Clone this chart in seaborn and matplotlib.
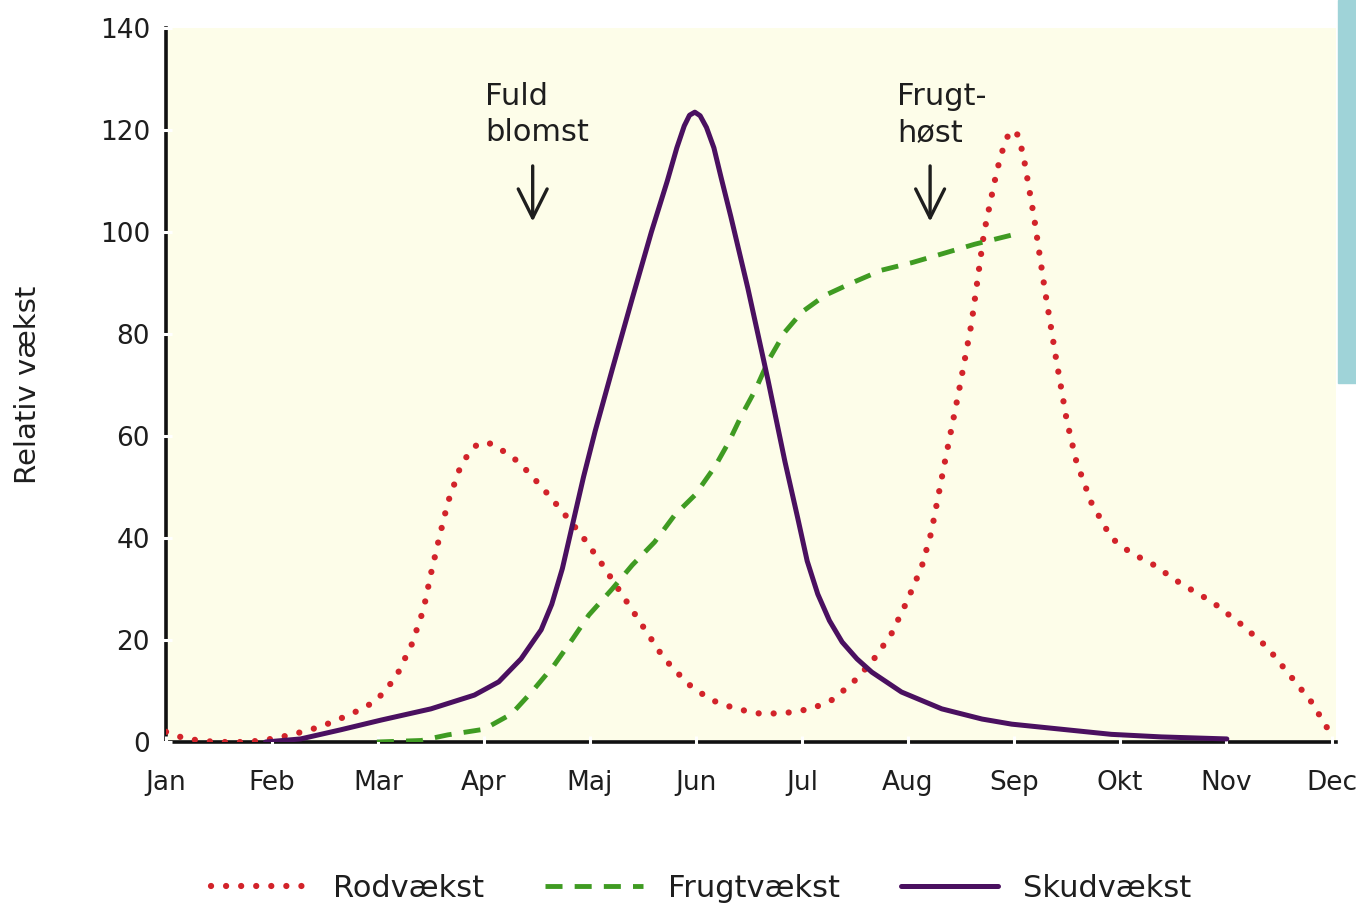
import pandas as pd
import matplotlib.pyplot as plt
import seaborn as sns
from matplotlib.patches import Rectangle

# month labels (x positions 0..11)
months = ['Jan', 'Feb', 'Mar', 'Apr', 'Maj', 'Jun', 'Jul', 'Aug', 'Sep', 'Okt', 'Nov', 'Dec']
y_ticks = [0, 20, 40, 60, 80, 100, 120, 140]

# Rodvækst (root growth)
rod_x = [0.00, 0.19, 0.47, 0.76, 0.94, 1.18, 1.46, 1.75, 1.98, 2.17, 2.32, 2.43, 2.50, 2.58,
         2.66, 2.77, 2.86, 2.93, 3.00, 3.08, 3.15, 3.29, 3.40, 3.51, 3.62, 3.72, 3.92, 4.11,
         4.30, 4.49, 4.67, 4.78, 4.96, 5.15, 5.38, 5.62, 5.85, 6.09, 6.28, 6.47, 6.66, 6.84,
         6.99, 7.13, 7.22, 7.35, 7.48, 7.60, 7.72, 7.84, 7.92, 7.98, 8.04, 8.09, 8.19, 8.29,
         8.40, 8.50, 8.59, 8.73, 8.92, 9.11, 9.30, 9.58, 9.87, 10.15, 10.39, 10.62, 10.81,
         10.95, 11.02]
rod_y = [2, 0.6, 0, 0, 0.4, 1.4, 3, 5.5, 8, 12.7, 19.2, 26, 33, 40.2,
         47, 53.5, 56.8, 58.2, 58.8, 58.4, 57.5, 55.5, 53.3, 50.8, 48.2, 45.7, 40.6, 35,
         29, 23, 17.3, 14.5, 10.8, 8.2, 6.5, 5.5, 5.7, 6.5, 8.2, 11.4, 15.7, 21,
         27.5, 34.3, 41, 55, 68.6, 82, 100, 112, 118, 120, 119, 115, 103, 89,
         75, 63, 55, 47, 40, 37, 35, 31, 27.5, 23, 18.6, 12.7, 7.8,
         3, 0.4]

# Frugtvækst (fruit growth)
frugt_x = [1.99, 2.41, 2.66, 3.00, 3.26, 3.45, 3.66, 3.83, 3.99, 4.21, 4.40, 4.61, 4.80, 4.99,
           5.18, 5.31, 5.43, 5.56, 5.69, 5.84, 6.00, 6.22, 6.47, 6.75, 7.04, 7.32, 7.63, 7.98]
frugt_y = [0, 0.3, 1.4, 2.5, 5.5, 9.8, 15, 20, 24.9, 30, 34.7, 39.2, 44.5, 48.4,
           54, 58.8, 64, 69, 75, 80.4, 84.3, 87.6, 90, 92.5, 94, 95.7, 97.6, 99.4]

# Skudvækst (shoot growth)
skud_x = [0.94, 1.27, 1.65, 2.03, 2.50, 2.91, 3.14, 3.35, 3.54, 3.64, 3.74, 3.84, 3.94, 4.05,
          4.21, 4.40, 4.58, 4.73, 4.82, 4.89, 4.94, 4.99, 5.04, 5.10, 5.17, 5.24, 5.33, 5.49,
          5.68, 5.84, 5.96, 6.05, 6.15, 6.26, 6.38, 6.52, 6.66, 6.94, 7.32, 7.70, 7.98, 8.45,
          8.92, 9.39, 10.01]
skud_y = [0, 0.6, 2.4, 4.3, 6.5, 9.2, 11.8, 16.3, 22, 27, 34, 43, 52, 61,
          73, 87, 100, 110, 116.5, 120.8, 122.9, 123.5, 122.8, 120.5, 116.5, 110.5, 103, 89,
          71, 55, 44, 35.5, 29, 23.8, 19.6, 16.3, 13.7, 9.8, 6.5, 4.5, 3.5, 2.5,
          1.5, 1, 0.6]

red = '#d2232a'
green = '#3f9b22'
purple = '#4a1060'
ink = '#1e1e1e'

sns.set_theme(style='white')
plt.rcParams['font.family'] = ['DejaVu Sans']

fig = plt.figure(figsize=(13.56, 9.10), dpi=100)
ax = fig.add_axes([166 / 1356, 1 - 742 / 910, 1170 / 1356, 714 / 910])
ax.set_facecolor('#fdfde9')

rod = pd.DataFrame({'month': rod_x, 'value': rod_y})
frugt = pd.DataFrame({'month': frugt_x, 'value': frugt_y})
skud = pd.DataFrame({'month': skud_x, 'value': skud_y})

sns.lineplot(data=rod, x='month', y='value', ax=ax, color=red, lw=4.5,
             linestyle=(0, (0.01, 2.4)), dash_capstyle='round', label='Rodvækst', zorder=3)
sns.lineplot(data=frugt, x='month', y='value', ax=ax, color=green, lw=3.5,
             linestyle=(0, (3.5, 2.5)), solid_joinstyle='round', label='Frugtvækst', zorder=3)
sns.lineplot(data=skud, x='month', y='value', ax=ax, color=purple, lw=3.6,
             solid_joinstyle='round', label='Skudvækst', zorder=4)

ax.set_xlim(0, 11.04)
ax.set_ylim(0, 139.5)
ax.set_xticks(range(len(months)))
ax.set_xticklabels(months)
ax.set_yticks(y_ticks)
ax.set_xlabel('')
ax.set_ylabel('Relativ vækst', fontsize=21, color=ink)
ax.yaxis.set_label_coords(-0.106, 0.5)

sns.despine(ax=ax)
for side in ['left', 'bottom']:
    ax.spines[side].set_color('#111111')
    ax.spines[side].set_linewidth(2.6)
    ax.spines[side].set_zorder(0.3)

# white tick marks cut small gaps in the axis lines
ax.tick_params(axis='both', bottom=True, left=True, direction='inout', length=9, width=2.2,
               color='white', labelsize=19, labelcolor=ink)
ax.tick_params(axis='x', pad=16)
ax.tick_params(axis='y', pad=7)

# annotations
ax.text(3.01, 123.0, 'Fuld\nblomst', fontsize=22, color=ink, ha='left', va='center',
        linespacing=1.3)
ax.text(6.90, 123.0, 'Frugt-\nhøst', fontsize=22, color=ink, ha='left', va='center',
        linespacing=1.3)
for ax_x in [3.46, 7.21]:
    ax.annotate('', xy=(ax_x, 101.5), xytext=(ax_x, 113.5),
                arrowprops=dict(arrowstyle='->', lw=2.4, color=ink, mutation_scale=52))

handles, labels = ax.get_legend_handles_labels()
ax.get_legend().remove()
fig.legend(handles, labels, loc='center', bbox_to_anchor=(0.517, 0.024), ncol=3,
           frameon=False, fontsize=22, handlelength=3.2, handletextpad=0.8,
           columnspacing=2.0, labelcolor=ink)

# teal strip at the right edge
fig.patches.append(Rectangle((1338 / 1356, 1 - 383 / 910), 18 / 1356, 383 / 910,
                             transform=fig.transFigure, color='#9fd3d8', zorder=0))

fig.savefig('out.png', dpi=100)
